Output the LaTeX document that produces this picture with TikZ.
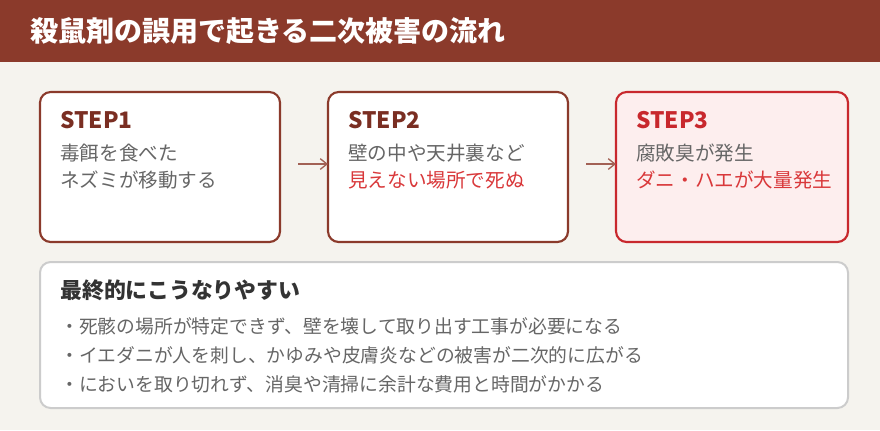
\documentclass[tikz,border=0pt]{standalone}
\usepackage{fontspec}
\setmainfont{Noto Sans CJK JP}
\usetikzlibrary{arrows.meta}
\definecolor{brn}{HTML}{8B3A2B}
\definecolor{sbrn}{HTML}{7A2E22}
\definecolor{bg}{HTML}{F5F3EE}
\definecolor{rd}{HTML}{C8282D}
\definecolor{rtx}{HTML}{D9383A}
\definecolor{pk}{HTML}{FDEEEE}
\definecolor{gtx}{HTML}{666666}
\definecolor{dtx}{HTML}{333333}
\tikzset{
 stepbox/.style={draw=brn,line width=1.6pt,rounded corners=8pt,fill=white},
 steplbl/.style={anchor=west,inner sep=0,font=\fontsize{17}{20}\selectfont\bfseries,text=sbrn},
 bodytxt/.style={anchor=north west,inner sep=0,align=left,font=\fontsize{14.7}{20}\selectfont,text=gtx},
 flow/.style={draw=brn!80,line width=1pt,-{Straight Barb[length=5pt,width=8pt]}},
 bullet/.style={anchor=west,inner sep=0,font=\fontsize{14.1}{16}\selectfont,text=gtx}
}
\begin{document}
\begin{tikzpicture}[x=0.75pt,y=-0.75pt]
\fill[bg] (0,0) rectangle (880,430);
\fill[brn] (0,0) rectangle (880,62);
\node[anchor=west,inner sep=0,text=white,font=\fontsize{21}{24}\selectfont\bfseries] (title) at (30,31) {殺鼠剤の誤用で起きる二次被害の流れ};
\draw[stepbox] (40,92) rectangle (280,242);
\draw[stepbox] (328,92) rectangle (568,242);
\draw[stepbox,draw=rd,fill=pk] (616,92) rectangle (848,242);
\node[steplbl] (s1) at (60,120) {STEP1};
\node[steplbl] (s2) at (348,120) {STEP2};
\node[steplbl,text=rd] (s3) at (636,120) {STEP3};
\node[bodytxt] (t1) at (60,144) {毒餌を食べた\\ネズミが移動する};
\node[bodytxt] (t2) at (348,144) {壁の中や天井裏など\\\textcolor{rtx}{見えない場所で死ぬ}};
\node[bodytxt] (t3) at (636,144) {腐敗臭が発生\\\textcolor{rtx}{ダニ・ハエが大量発生}};
\coordinate (a1) at (298,164); \coordinate (b1) at (328,164);
\coordinate (a2) at (586,164); \coordinate (b2) at (616,164);
\draw[flow] (a1) -- (b1);
\draw[flow] (a2) -- (b2);
\draw[draw=black!20,line width=1.5pt,rounded corners=8pt,fill=white] (40,262) rectangle (848,408);
\node[anchor=west,inner sep=0,text=dtx,font=\fontsize{16.4}{19}\selectfont\bfseries] (h) at (60,290) {最終的にこうなりやすい};
\node[bullet] (b1t) at (60,326) {・死骸の場所が特定できず、壁を壊して取り出す工事が必要になる};
\node[bullet] (b2t) at (60,355) {・イエダニが人を刺し、かゆみや皮膚炎などの被害が二次的に広がる};
\node[bullet] (b3t) at (60,384) {・においを取り切れず、消臭や清掃に余計な費用と時間がかかる};
\end{tikzpicture}
\end{document}
